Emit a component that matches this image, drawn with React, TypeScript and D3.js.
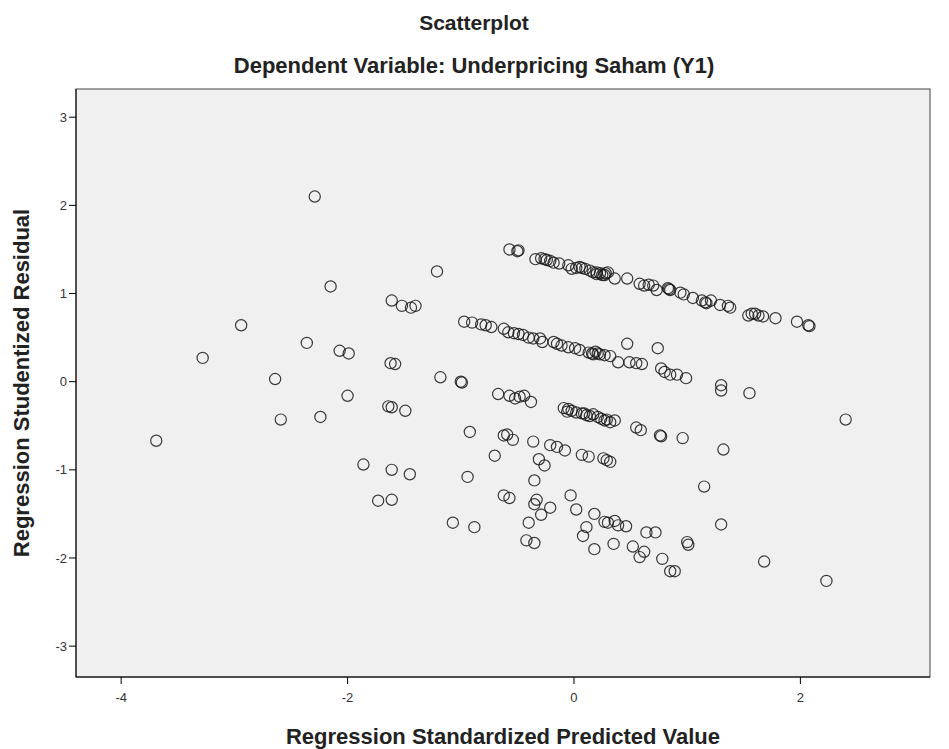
import React from 'react';
import * as d3 from 'd3';

// points: [predicted value, studentized residual]
const scattered: [number, number][] = [
  [-3.69, -0.67], [-3.28, 0.27], [-2.94, 0.64], [-2.64, 0.03], [-2.59, -0.43],
  [-2.36, 0.44], [-2.29, 2.1], [-2.24, -0.4], [-2.15, 1.08], [-2.07, 0.35],
  [-1.99, 0.32], [-2.0, -0.16], [-1.86, -0.94], [-1.73, -1.35], [-1.61, -1.34],
  [-1.61, 0.92], [-1.62, 0.21], [-1.58, 0.2], [-1.61, -0.29], [-1.64, -0.28],
  [-1.49, -0.33], [-1.61, -1.0], [-1.45, -1.05], [-1.52, 0.86], [-1.44, 0.84],
  [-1.4, 0.86], [-1.21, 1.25], [-1.18, 0.05], [-0.99, -0.01], [-1.0, 0.0],
  [-1.07, -1.6], [-0.88, -1.65], [-0.92, -0.57], [-0.94, -1.08],
];

const upperBand: [number, number][] = [
  [-0.57, 1.5], [-0.5, 1.48], [-0.49, 1.49], [-0.34, 1.39], [-0.29, 1.4],
  [-0.26, 1.39], [-0.24, 1.38], [-0.21, 1.37], [-0.18, 1.35], [-0.13, 1.34],
  [-0.05, 1.32], [-0.02, 1.28], [0.02, 1.29], [0.05, 1.3], [0.07, 1.29],
  [0.1, 1.28], [0.14, 1.26], [0.17, 1.24], [0.2, 1.24], [0.2, 1.22],
  [0.23, 1.23], [0.25, 1.21], [0.27, 1.21], [0.28, 1.23], [0.3, 1.24],
  [0.36, 1.17], [0.47, 1.17], [0.58, 1.11], [0.62, 1.09], [0.66, 1.1],
  [0.7, 1.09], [0.73, 1.04], [0.83, 1.06], [0.85, 1.04], [0.84, 1.05],
  [0.94, 1.01], [0.97, 0.99], [1.05, 0.95], [1.13, 0.92], [1.16, 0.9],
  [1.17, 0.89], [1.21, 0.92], [1.29, 0.87], [1.36, 0.86], [1.38, 0.84],
  [1.54, 0.75], [1.57, 0.77], [1.6, 0.77], [1.63, 0.75], [1.67, 0.74],
  [1.78, 0.72], [1.97, 0.68], [2.07, 0.64], [2.08, 0.63],
];

const middleBand: [number, number][] = [
  [-0.97, 0.68], [-0.9, 0.67], [-0.82, 0.65], [-0.78, 0.64], [-0.73, 0.62],
  [-0.62, 0.6], [-0.58, 0.56], [-0.53, 0.55], [-0.49, 0.54], [-0.45, 0.53],
  [-0.4, 0.5], [-0.36, 0.49], [-0.3, 0.49], [-0.28, 0.45], [-0.18, 0.45],
  [-0.15, 0.43], [-0.11, 0.41], [-0.05, 0.39], [0.01, 0.38], [0.05, 0.36],
  [0.13, 0.33], [0.16, 0.32], [0.17, 0.31], [0.19, 0.34], [0.21, 0.32],
  [0.23, 0.31], [0.27, 0.3], [0.32, 0.29], [0.39, 0.22], [0.47, 0.43],
  [0.49, 0.22], [0.55, 0.21], [0.6, 0.2], [0.74, 0.38], [0.77, 0.15],
  [0.8, 0.11], [0.85, 0.08], [0.91, 0.08], [0.99, 0.04], [1.3, -0.04],
  [1.3, -0.1], [1.55, -0.13], [2.4, -0.43],
];

const lowerBand: [number, number][] = [
  [-0.67, -0.14], [-0.57, -0.16], [-0.52, -0.19], [-0.48, -0.17], [-0.44, -0.16],
  [-0.38, -0.23], [-0.09, -0.3], [-0.06, -0.34], [-0.05, -0.31], [-0.02, -0.33],
  [0.02, -0.35], [0.07, -0.36], [0.09, -0.36], [0.11, -0.38], [0.14, -0.39],
  [0.17, -0.37], [0.21, -0.4], [0.24, -0.42], [0.27, -0.44], [0.29, -0.43],
  [0.32, -0.46], [0.36, -0.44], [0.55, -0.52], [0.59, -0.55], [0.76, -0.61],
  [0.77, -0.62], [0.96, -0.64], [1.32, -0.77],
];

const bottomSpread: [number, number][] = [
  [-0.7, -0.84], [-0.62, -0.61], [-0.59, -0.6], [-0.54, -0.66], [-0.36, -0.68],
  [-0.21, -0.72], [-0.15, -0.74], [-0.08, -0.78], [0.07, -0.83], [0.13, -0.85],
  [0.26, -0.87], [0.29, -0.89], [0.32, -0.91], [-0.31, -0.88], [-0.26, -0.95],
  [-0.35, -1.12], [-0.62, -1.29], [-0.57, -1.32], [-0.33, -1.34], [-0.35, -1.39],
  [-0.21, -1.43], [-0.29, -1.51], [-0.03, -1.29], [0.02, -1.45], [0.18, -1.5],
  [0.27, -1.59], [0.3, -1.6], [0.36, -1.58], [0.39, -1.63], [0.46, -1.64],
  [0.64, -1.71], [0.72, -1.71], [-0.4, -1.6], [0.11, -1.65], [0.08, -1.75],
  [-0.42, -1.8], [-0.35, -1.83], [0.18, -1.9], [0.35, -1.84], [0.52, -1.87],
  [0.62, -1.93], [0.58, -1.99], [0.78, -2.01], [0.85, -2.15], [0.89, -2.15],
  [1.0, -1.82], [1.01, -1.85], [1.3, -1.62], [1.15, -1.19], [1.68, -2.04],
  [2.23, -2.26],
];

const xTicks = [-4, -2, 0, 2];
const yTicks = [3, 2, 1, 0, -1, -2, -3];

const titleText = 'Scatterplot';
const subtitleText = 'Dependent Variable: Underpricing Saham (Y1)';
const xLabel = 'Regression Standardized Predicted Value';
const yLabel = 'Regression Studentized Residual';

const App: React.FC = () => {
  const width = 949;
  const height = 749;
  const frame = { left: 76, right: 930, top: 89, bottom: 677 };

  const x = d3.scaleLinear().domain([-4.399, 3.145]).range([frame.left, frame.right]);
  const y = d3.scaleLinear().domain([-3.35, 3.32]).range([frame.bottom, frame.top]);

  const points = [...scattered, ...upperBand, ...middleBand, ...lowerBand, ...bottomSpread];
  const font = 'Arial, "Liberation Sans", sans-serif';
  const cx = (frame.left + frame.right) / 2;
  const cy = (frame.top + frame.bottom) / 2;
  const labelSize = 22;

  return (
    <svg
      width={width}
      height={height}
      style={{ position: 'absolute', left: 0, top: 0, background: '#fff' }}
      fontFamily={font}
    >
      <text x={474} y={30} textAnchor="middle" fontSize={21} fontWeight="bold" fill="#222">
        {titleText}
      </text>
      <text x={474} y={73} textAnchor="middle" fontSize={labelSize} fontWeight="bold" fill="#222">
        {subtitleText}
      </text>

      <rect
        x={frame.left}
        y={frame.top}
        width={frame.right - frame.left}
        height={frame.bottom - frame.top}
        fill="#f0f0f0"
        stroke="#444"
        strokeWidth={1}
      />

      {/* axes */}
      <line x1={frame.left} x2={frame.right} y1={frame.bottom} y2={frame.bottom} stroke="#000" />
      <line x1={frame.left} x2={frame.left} y1={frame.top} y2={frame.bottom} stroke="#000" />

      {xTicks.map((t) => (
        <g key={`x${t}`} transform={`translate(${x(t)},${frame.bottom})`}>
          <line y1={0} y2={7} stroke="#000" />
          <text y={25} textAnchor="middle" fontSize={13} fill="#333">
            {t}
          </text>
        </g>
      ))}
      {yTicks.map((t) => (
        <g key={`y${t}`} transform={`translate(${frame.left},${y(t)})`}>
          <line x1={-7} x2={0} stroke="#000" />
          <text x={-9} dy="0.35em" textAnchor="end" fontSize={13} fill="#333">
            {t}
          </text>
        </g>
      ))}

      {points.map(([px, py], i) => (
        <circle
          key={i}
          cx={x(px)}
          cy={y(py)}
          r={5.6}
          fill="none"
          stroke="#1a1a1a"
          strokeWidth={1.2}
          strokeOpacity={0.85}
        />
      ))}

      <text x={cx} y={744} textAnchor="middle" fontSize={labelSize} fontWeight="bold" fill="#222">
        {xLabel}
      </text>
      <text
        transform={`translate(29,${cy}) rotate(-90)`}
        textAnchor="middle"
        fontSize={labelSize}
        fontWeight="bold"
        fill="#222"
      >
        {yLabel}
      </text>
    </svg>
  );
};

export default App;
